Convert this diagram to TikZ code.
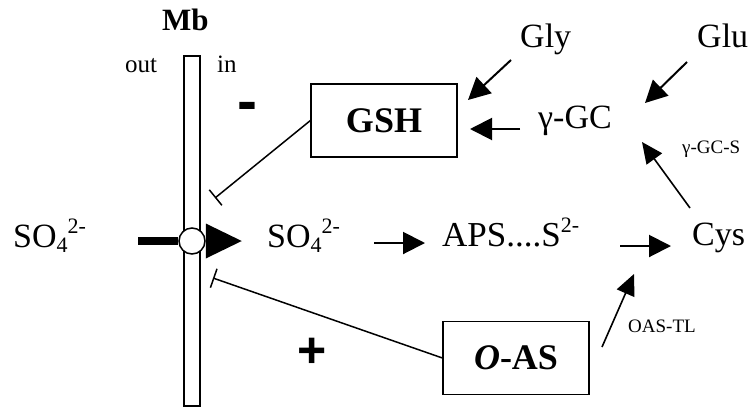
\documentclass[tikz,border=0pt]{standalone}
\usepackage{fontspec}
\setmainfont{Liberation Serif}
\setsansfont{Liberation Sans}
\usetikzlibrary{arrows.meta}
\newcommand\chemsup[1]{\raisebox{14pt}{\fontsize{22}{22}\selectfont #1}}
\newcommand\chemsub[1]{\raisebox{-5pt}{\fontsize{22}{22}\selectfont #1}}
\begin{document}
\begin{tikzpicture}[x=1pt,y=-1pt,
  lbl/.style={inner sep=0pt, anchor=base west, font=\fontsize{34}{40}\selectfont},
  small/.style={inner sep=0pt, anchor=base west, font=\fontsize{19}{22}\selectfont},
  side/.style={inner sep=0pt, anchor=base west, font=\fontsize{25}{30}\selectfont},
  box/.style={draw, line width=1.2pt, minimum width=146pt, minimum height=73pt, inner sep=0pt, font=\bfseries\fontsize{36}{42}\selectfont},
  arr/.style={line width=2pt, -{Triangle[length=22pt,width=22pt]}},
  thinarr/.style={line width=1.6pt, -{Triangle[length=21pt,width=19pt]}},
  inh/.style={line width=1.5pt, -{Bar[width=20pt,line width=1.5pt]}},
  sign/.style={inner sep=0pt, anchor=base, font=\sffamily\bfseries},
]
\useasboundingbox (0,0) rectangle (754,408);
% membrane
\node[draw, line width=1.3pt, minimum width=16pt, minimum height=350pt, inner sep=0pt] (mb) at (192,231) {};
\node[inner sep=0pt, anchor=base west, font=\bfseries\fontsize{31}{36}\selectfont] (mblabel) at (162,30) {Mb};
\node[side] (out) at (125,72) {out};
\node[side] (in) at (217,72) {in};
% transporter
\node[draw, circle, fill=white, line width=1.5pt, minimum size=26pt, inner sep=0pt] (circ) at (192,241) {};
\coordinate (barstart) at (138,241);
\draw[line width=8pt] (barstart) -- (circ.west);
\fill (circ.east) -- ++(0,-17.5) -- ++(36,17.5) -- ++(-36,17.5) -- cycle;
% texts
\node[lbl] (so4out) at (13,247) {SO\chemsub{4}\chemsup{2-}};
\node[lbl] (so4in) at (267,247) {SO\chemsub{4}\chemsup{2-}};
\node[lbl, font=\fontsize{35}{40}\selectfont] (aps) at (442,246) {APS....S\chemsup{2-}};
\node[lbl] (cys) at (692,245) {Cys};
\node[lbl] (gly) at (520,47) {Gly};
\node[lbl] (glu) at (697,47) {Glu};
\node[lbl] (ggc) at (538,128) {γ-GC};
\node[small] (ggcs) at (682,153) {γ-GC-S};
\node[small] (oastl) at (628,332) {OAS-TL};
\node[box] (gsh) at (384,120.5) {GSH};
\node[box] (oas) at (516,358) {\textit{O}-AS};
\node[sign, font=\sffamily\bfseries\fontsize{60}{60}\selectfont] (minus) at (247,121) {-};
\node[sign, font=\sffamily\bfseries\fontsize{50}{50}\selectfont] (plus) at (312,367) {+};
% connector end points
\coordinate (gshend) at (215,198);
\coordinate (oasend) at (213,278);
\coordinate (glyA) at (511,60);  \coordinate (glyB) at (468,100);
\coordinate (gluA) at (687,62);  \coordinate (gluB) at (645,103);
\coordinate (ggcA) at (520,129); \coordinate (ggcB) at (470,129);
\coordinate (cysA) at (690,208); \coordinate (cysB) at (642,142);
\coordinate (so4A) at (374,243); \coordinate (so4B) at (425,243);
\coordinate (apsA) at (620,246); \coordinate (apsB) at (671,246);
\coordinate (oasA) at (602,347); \coordinate (oasB) at (634,274);
% connectors
\draw[inh] (gsh.west) -- (gshend);
\draw[inh] (oas.west) -- (oasend);
\draw[arr] (glyA) -- (glyB);
\draw[arr] (gluA) -- (gluB);
\draw[arr] (ggcA) -- (ggcB);
\draw[thinarr] (cysA) -- (cysB);
\draw[arr] (so4A) -- (so4B);
\draw[arr] (apsA) -- (apsB);
\draw[thinarr] (oasA) -- (oasB);
\end{tikzpicture}
\end{document}
